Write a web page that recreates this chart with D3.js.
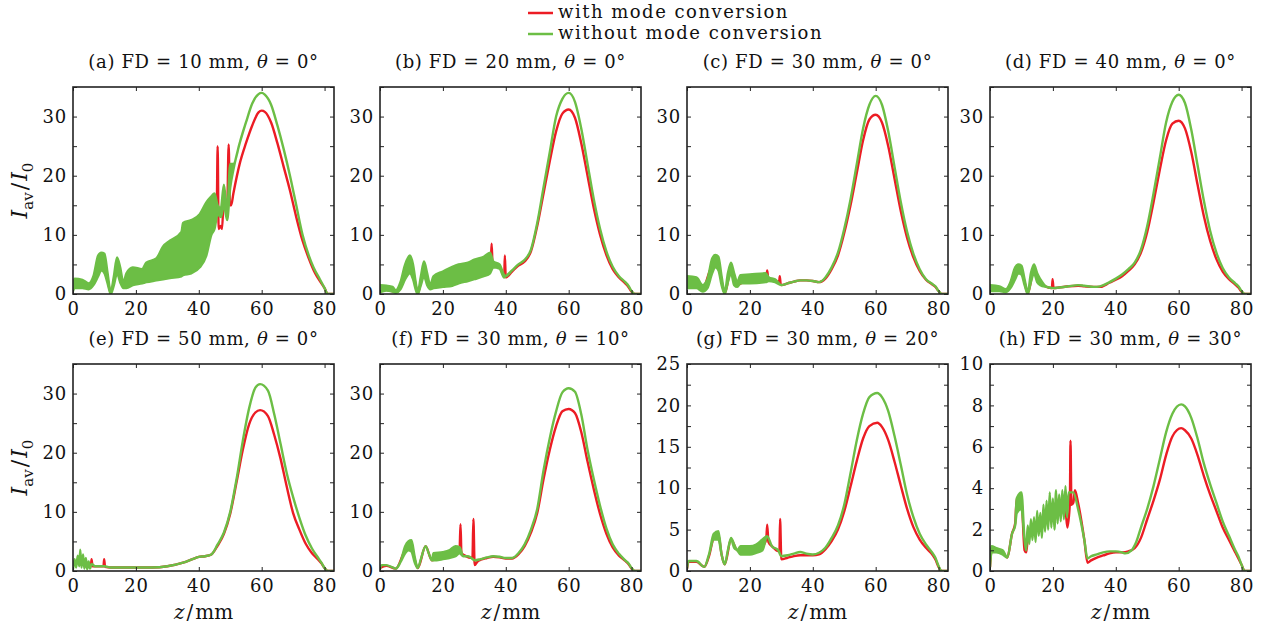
<!DOCTYPE html>
<html>
<head>
<meta charset="utf-8">
<script src="https://cdn.jsdelivr.net/npm/d3@7"></script>
<style>
  body { margin: 0; background: #fff; }
  svg text { font-family: "DejaVu Serif", serif; fill: #111; }
</style>
</head>
<body>
<svg id="chart" width="1264" height="630"></svg>
<script>
// [z, value] = single line point, [z, low, high] = fast oscillation band (low..high)
const aWith = [[0,1],[3,1.5],[5,1.2],[8,4.5],[10,5],[11,2.5],[12,0.2],[14,4.5],[16,1.5],[20,2.8],[25,3.8],[30,5],[35,7],[40,9],[43,11],[45,13],[45.7,14],[46,25],[46.3,11],[47,11.5],[47.4,11],[48,17],[49,13.5],[49.5,25.3],[49.9,15],[50.3,15],[51,17],[53,22],[55,25.5],[57,28.5],[59,30.7],[60,31],[61,30.8],[63,29],[65,25.5],[67,21.5],[69,17.5],[71,13],[73,9],[75,6],[77,3.5],[79,1.8],[80,1],[81,0],[83,0]];
const aWithout = [[0,0.5,1.5],[0.5,1,2.6],[3,1,2.4],[5,0.8,1.8],[6.5,1.5,3],[8,3,6.5],[9,4,7],[10,3.5,6.8],[11,1.8,3.5],[12,0,0.3],[13,1.5,3],[14,3.5,6.2],[15,2,4.5],[16,1,2],[17,1,3.5],[19,1.5,4.5],[22,1.8,4.2],[23.3,2,5.3],[26.5,2.3,6],[28.6,2.5,8],[30.8,2.7,9],[34.5,3,10.5],[35,3.2,12],[37.6,3.5,12.5],[40.3,4.5,13.5],[42.4,6.5,15.5],[44,10,16.5],[45,11,17],[46,13.5,15],[47,13,14.5],[48,15,18.5],[49,12.5,14],[50,18,22],[51,21,22],[53,25.5],[55,29],[57,32.2],[59,33.8],[60,34],[61,33.7],[63,32],[65,28.5],[67,24.5],[69,20],[71,15],[73,10],[75,6.5],[76.5,4.5],[78.5,2.5],[80,1],[81,0],[83,0]];

const bWith = [[0,1],[5,0.4],[8,3.5],[9.5,5],[11,2.5],[12,0.1],[14,4],[16,1.2],[20,2.5],[25,3.4],[30,4.2],[35,5.2],[35.3,6],[35.5,8.5],[35.8,5],[38,4.6],[39.5,3],[39.7,6.5],[40,2.8],[42,3.8],[44,4.8],[46,5.5],[48,7.2],[50,11.5],[52,17],[54,22.5],[56,27.5],[58,30.5],[60,31.2],[62,29.8],[64,25.5],[66,20],[68,14.5],[70,10],[72,6.6],[74,4.2],[76,2.8],[78,1.8],[79,1.2],[80,0.4],[81,0],[83,0]];
const bWithout = [[0,0.3,1.5],[2,0.6,1.4],[4,0.4,1.2],[5,0.2,0.6],[6.5,0.8,2],[8,2.5,5],[9.5,3.5,6.5],[10.5,2.5,5],[11.5,0.5,1.5],[12,0,0.3],[13,1.5,3],[14,3,5.5],[15,1.5,3.5],[16,0.8,1.5],[17,1,3],[20,1.2,3.8],[23,1.4,4.6],[25,1.8,5],[28,2.2,5.3],[30,2.5,5.8],[33,3,6.3],[35,3.5,7],[36,4.5,5.5],[38,4.3,5],[39.5,2.8,3.2],[40,3],[42,4],[44,5],[46,5.8],[48,7.5],[50,12],[52,18],[54,24],[56,30],[58,33],[60,34],[62,32.5],[64,28],[66,22],[68,16],[70,11],[72,7.2],[74,4.6],[76,3],[78,2],[79,1.4],[80,0.5],[81,0],[83,0]];

const cWith = [[0,2],[5,1],[8,4.7],[10,5],[11,2.2],[12,0.1],[14,4.2],[16,1.6],[20,2.5],[25,2.7],[25.3,3],[25.5,4],[25.8,2.8],[28,2.2],[29.3,2],[29.5,3],[29.8,1.6],[30,1.5],[32,1.8],[34,2.1],[36,2.3],[38,2.3],[40,2.2],[42,2],[44,2.6],[46,4.2],[48,6.5],[50,10.3],[52,15],[54,20.5],[56,26],[58,29.5],[60,30.3],[62,29],[64,25],[66,19.5],[68,14],[70,9.5],[72,6.2],[74,3.9],[76,2.4],[78,1.6],[79,1.2],[80,0.5],[81,0],[83,0]];
const cWithout = [[0,1,3],[3,1,2.8],[5,0.4,1.5],[6.5,1,2.5],[8,3.5,6],[9,4.5,6.6],[10,4,6.3],[11,1.5,3],[12,0,0.3],[13,2,3.5],[14,3.5,5.3],[15,1.5,3.5],[16,1.2,2],[17,1.8,3.2],[20,1.8,3.3],[25,2,3.5],[26,2.2,2.8],[28,2,2.5],[30,1.5],[32,1.8],[34,2.1],[36,2.3],[38,2.3],[40,2.2],[42,2],[44,2.8],[46,4.5],[48,7],[50,11],[52,16],[54,22],[56,28],[58,32],[60,33.5],[62,32],[64,27.5],[66,21.5],[68,15.5],[70,10.5],[72,6.8],[74,4.2],[76,2.5],[78,1.7],[79,1.3],[80,0.5],[81,0],[83,0]];

const dWith = [[0,1],[5,0.5],[8,3.5],[9.5,4.2],[11,2],[12,0.1],[14,4.2],[16,2],[18,1.2],[19.7,1],[19.9,2.5],[20.2,1],[22,1.1],[25,1.3],[28,1.4],[30,1.3],[33,1.2],[35,1.2],[38,1.9],[40,2.4],[42,3],[44,3.9],[46,5],[48,7],[50,10.5],[52,15.5],[54,21],[56,26],[58,28.8],[60,29.3],[62,28],[64,24],[66,18.5],[68,13.2],[70,9],[72,5.9],[74,3.8],[76,2.5],[78,1.6],[79,1.1],[80,0.4],[81,0],[83,0]];
const dWithout = [[0,0.5,1.5],[3,0.5,1.3],[5,0.3,0.8],[6.5,1,2],[8,2.5,4.5],[9,3.5,5],[10,3.3,4.8],[11,1.5,2.5],[12,0,0.3],[13,2,3.5],[14,3.5,5],[15,2,3.5],[16,1.5,2.5],[18,1.2],[20,1],[22,1.1],[25,1.3],[28,1.5],[30,1.4],[33,1.2],[35,1.3],[38,2],[40,2.6],[42,3.3],[44,4.2],[46,5.3],[48,7.5],[50,11.5],[52,17],[54,23],[56,29],[58,32.5],[60,33.7],[62,32.3],[64,27.8],[66,21.8],[68,15.8],[70,10.7],[72,7],[74,4.4],[76,2.8],[78,1.8],[79,1.3],[80,0.5],[81,0],[83,0]];

const eWith = [[0,1],[2,1.5],[4,0.8],[5.7,0.8],[5.9,2],[6.2,0.8],[9.7,0.8],[9.9,2],[10.2,0.7],[12,0.6],[15,0.6],[20,0.6],[25,0.6],[30,0.8],[35,1.4],[38,2],[40,2.4],[42,2.5],[44,2.8],[46,4.3],[48,6.3],[50,9.7],[52,15],[54,20.5],[56,24.8],[58,26.8],[59.5,27.2],[62,26.2],[64,23],[66,19],[68,14.2],[70,9.8],[72,7],[74,4.6],[76,3],[78,1.9],[79,1.3],[80,0.5],[81,0],[83,0]];
const eWithout = [[0,0.3],[0.5,2],[1,0.6],[1.5,2.6],[2,0.8],[2.3,3.6],[2.7,0.6],[3.2,2.8],[3.6,0.4],[4.1,2.2],[4.5,0.3],[5,1.6],[5.4,0.4],[6,1.2],[7,0.8],[10,0.8],[12,0.6],[15,0.6],[20,0.6],[25,0.6],[30,0.8],[35,1.4],[38,2],[40,2.4],[42,2.5],[44,2.8],[46,4.5],[48,6.5],[50,10],[52,15.5],[54,22],[56,27.5],[58,31],[59.5,31.6],[62,30.5],[64,26.5],[66,21.5],[68,16.5],[70,12.5],[72,9],[74,6],[76,3.8],[78,2.2],[79,1.4],[80,0.5],[81,0],[83,0]];

const fWith = [[0,0.5],[2,0.9],[5,0.4],[8,3.5],[10,4.2],[11,2],[12,0.5],[14.5,4.2],[16.5,1.8],[20,2.6],[24,3.2],[25.3,3.5],[25.6,7.9],[25.9,3],[27,2.6],[29.4,2.2],[29.7,8.8],[30.1,1],[31,1.6],[32,1.9],[34,2.2],[36,2.4],[38,2.3],[40,2.1],[42,2.1],[44,2.8],[46,4.2],[48,6.5],[50,9.8],[52,15.5],[54,20.5],[56,24.5],[58,27],[60,27.4],[62,26.7],[64,23.5],[66,18.5],[68,13.8],[70,9.6],[72,6.3],[74,4],[76,2.6],[78,1.7],[79,1.2],[80,0.4],[81,0],[83,0]];
const fWithout = [[0,0.3],[0.5,1],[2,1],[4,0.6],[5,0.4],[6.5,1.5],[8,3,4.2],[9,3.5,5],[10,3.3,5.2],[11,1.5,2.5],[12,0.5],[13,2],[14.5,4.2],[15.5,3],[16.5,1.8],[17,1.8,3],[20,2,3.2],[22,2.2,3.5],[24,2.5,4.2],[25.3,3,4],[26.5,2.5],[28,2.5],[29.5,2],[30,1.8],[32,2],[34,2.3],[36,2.5],[38,2.4],[40,2.2],[42,2.2],[44,3],[46,4.5],[48,7],[50,10.5],[52,17],[54,22.5],[56,27],[58,30.2],[60,30.9],[62,30.3],[64,26.5],[66,20.5],[68,15.5],[70,11],[72,7.2],[74,4.5],[76,2.9],[78,1.8],[79,1.3],[80,0.5],[81,0],[83,0]];

const gWith = [[0,0.3],[0.5,1.1],[3,1.1],[5.5,0.5],[7,1.8],[8.5,4],[10,4.3],[11,2],[12,0.8],[14,3.8],[16,2.5],[20,2.5],[24,3],[25.2,3.8],[25.5,5.6],[25.9,3.5],[27,3],[29,2.4],[29.4,2.4],[29.6,6.3],[30,1.4],[32,1.6],[34,1.8],[36,1.9],[38,1.9],[40,1.9],[42,2],[44,2.6],[46,3.6],[48,5],[50,7.2],[52,10.2],[54,13.3],[56,16],[58,17.5],[60.5,17.9],[62,17.4],[64,15.8],[66,13.2],[68,10.3],[70,7.5],[72,5.3],[74,3.8],[76,2.8],[78,2],[79,1.4],[80,0.5],[81,0],[83,0]];
const gWithout = [[0,0.3],[0.5,1.2],[3,1.2],[5.5,0.5],[7,2],[8.5,3.8,4.5],[10,3.8,4.8],[11,2],[12,0.8],[13,2.5],[14,3.8,4],[15,2.8,3.2],[16,2.5],[17,2,3],[20,2,3],[22,2.2,3.2],[24,2.5,3.8],[25.5,4.2],[27,3],[29,2.5],[30,1.8],[32,1.9],[34,2.1],[36,2.3],[38,2.1],[40,2],[42,2.2],[44,2.8],[46,4],[48,5.5],[50,8],[52,11.8],[54,15.8],[56,19],[58,21],[60.5,21.5],[62,21],[64,19.3],[66,16.3],[68,12.8],[70,9.2],[72,6.5],[74,4.5],[76,3.2],[78,2.2],[79,1.6],[80,0.6],[81,0],[83,0]];

const hWith = [[0,0.2],[0.5,1],[2,1],[4,0.9],[5.5,0.65],[7,1.8],[8,2.3],[8.5,3.5],[10,3.4],[11,1],[11.5,0.9],[12,1.5],[14,2],[16,2.3],[18,2.7],[20,2.8],[22,2.9],[24,2.9],[24.6,2.1],[25.4,3.3],[25.6,6.3],[25.9,3.2],[26.5,3.3],[27,3.9],[28,3.3],[30,1.5],[31,0.4],[32,0.5],[34,0.65],[36,0.75],[38,0.85],[40,0.9],[42,0.9],[44,0.95],[46,1.1],[48,1.6],[50,2.5],[52,3.4],[54,4.4],[56,5.6],[58,6.5],[60.8,6.9],[62,6.8],[64,6.4],[66,5.6],[68,4.6],[70,3.7],[72,2.9],[74,2.1],[76,1.5],[78,0.9],[79,0.6],[80,0.3],[81,0],[83,0]];
const hWithout = [[0,0.2],[0.5,0.9,1.2],[2,0.9,1.1],[4,0.8,1],[5.5,0.65],[7,1.8],[8,2.2],[8.5,2.8,3.5],[10,3,3.8],[11,1.5],[11.5,1],[12,2.2],[12.5,1.3],[13,2.5],[13.5,1.5],[14,2.6],[14.5,1.4],[15,2.9],[15.5,1.7],[16,2.8],[16.5,1.6],[17,3.2],[17.5,1.9],[18,3.4],[18.5,2],[19,3.8],[19.5,2.1],[20,3.5],[20.5,2],[21,3.9],[21.5,2.3],[22,3.7],[22.5,2.4],[23,3.9],[23.5,2.5],[24,4.1],[24.5,2.6],[25,3.8],[26.5,3.8],[28,3],[30,1.5],[31,0.6],[32,0.7],[34,0.8],[36,0.9],[38,0.95],[40,0.95],[42,0.9],[43,0.85],[45,1],[46.5,1.4],[48,2.1],[50,3],[52,4.1],[54,5.4],[56,6.7],[58,7.6],[60.8,8.05],[62,7.95],[64,7.4],[66,6.4],[68,5.2],[70,4.2],[72,3.3],[74,2.4],[76,1.7],[78,1],[79,0.7],[80,0.3],[81,0],[83,0]];

const seriesNames = ["with mode conversion", "without mode conversion"];
const panelLetters = ["(a)", "(b)", "(c)", "(d)", "(e)", "(f)", "(g)", "(h)"];
const focalDistances = [10, 20, 30, 40, 50, 30, 30, 30];
const angles = [0, 0, 0, 0, 0, 10, 20, 30];
const yMaxes = [35, 35, 35, 35, 35, 35, 25, 10];
const yMinorSteps = [5, 5, 5, 5, 5, 5, 2.5, 1];
const yLabelSteps = [10, 10, 10, 10, 10, 10, 5, 2];
const xTicks = [0, 20, 40, 60, 80];
const zMax = 83;

const withSeries = [aWith, bWith, cWith, dWith, eWith, fWith, gWith, hWith];
const withoutSeries = [aWithout, bWithout, cWithout, dWithout, eWithout, fWithout, gWithout, hWithout];

const colors = ["#ec1c24", "#6cbe45"];
const colLeft = [73, 380, 687, 990];
const rowTop = [87, 364];
const pw = 261, ph = 207;

const svg = d3.select("#chart");

// legend
seriesNames.forEach((name, k) => {
    const ly = 13 + k * 21;
    svg.append("line")
        .attr("x1", 528).attr("x2", 553)
        .attr("y1", ly).attr("y2", ly)
        .attr("stroke", colors[k])
        .attr("stroke-width", 2.5);
    svg.append("text")
        .attr("x", 558).attr("y", ly + 5)
        .style("font-size", "18px")
        .style("letter-spacing", "1.5px")
        .text(name);
});

function ticksFor(max, step) {
    return d3.range(0, max + step / 2, step);
}

withSeries.forEach((_, i) => {
    const left = colLeft[i % 4];
    const top = rowTop[Math.floor(i / 4)];
    const g = svg.append("g").attr("transform", `translate(${left},${top})`);

    const x = d3.scaleLinear().domain([0, zMax]).range([0, pw]);
    const y = d3.scaleLinear().domain([0, yMaxes[i]]).range([ph, 0]);

    g.append("clipPath").attr("id", "clip" + i)
        .append("rect").attr("width", pw).attr("height", ph);

    const area = d3.area()
        .x(d => x(d[0]))
        .y0(d => y(d[1]))
        .y1(d => y(d.length > 2 ? d[2] : d[1]))
        .curve(d3.curveMonotoneX);

    // red first, green drawn on top
    [withSeries[i], withoutSeries[i]].forEach((data, k) => {
        g.append("path")
            .attr("clip-path", `url(#clip${i})`)
            .attr("d", area(data))
            .attr("fill", colors[k])
            .attr("stroke", colors[k])
            .attr("stroke-width", 2.4)
            .attr("stroke-linejoin", "round");
    });

    // ticks on all four sides, pointing inwards
    const yt = ticksFor(yMaxes[i], yMinorSteps[i]);
    const isLabel = v => Math.abs(v / yLabelSteps[i] - Math.round(v / yLabelSteps[i])) < 1e-6;

    g.append("g")
        .call(d3.axisLeft(y).tickValues(yt).tickSizeInner(-4).tickSizeOuter(0).tickPadding(6)
            .tickFormat(d => isLabel(d) ? d : ""));
    g.append("g").attr("transform", `translate(${pw},0)`)
        .call(d3.axisRight(y).tickValues(yt).tickSizeInner(-4).tickSizeOuter(0).tickFormat(""));
    g.append("g").attr("transform", `translate(0,${ph})`)
        .call(d3.axisBottom(x).tickValues(xTicks).tickSizeInner(-4).tickSizeOuter(0).tickPadding(8));
    g.append("g")
        .call(d3.axisTop(x).tickValues(xTicks).tickSizeInner(-4).tickSizeOuter(0).tickFormat(""));

    g.selectAll(".domain").remove();
    g.selectAll(".tick line").attr("stroke", "#222");
    g.selectAll(".tick text")
        .attr("fill", "#111")
        .style("font-family", "'DejaVu Serif', serif")
        .style("font-size", "18px")
        .style("letter-spacing", "0.8px");

    g.append("rect")
        .attr("width", pw).attr("height", ph)
        .attr("fill", "none")
        .attr("stroke", "#222")
        .attr("stroke-width", 1.6);

    // title
    const title = g.append("text")
        .attr("x", pw / 2).attr("y", -19)
        .attr("text-anchor", "middle")
        .style("font-size", "18px")
        .style("letter-spacing", "0.65px");
    title.append("tspan").text(`${panelLetters[i]} FD = ${focalDistances[i]} mm, `);
    title.append("tspan").style("font-style", "italic").text("θ");
    title.append("tspan").text(` = ${angles[i]}°`);

    // y label
    if (i % 4 === 0) {
        const yl = g.append("text")
            .attr("transform", `translate(-46,${ph / 2}) rotate(-90)`)
            .attr("text-anchor", "middle")
            .style("font-size", "22px");
        yl.append("tspan").style("font-style", "italic").text("I");
        yl.append("tspan").attr("dy", 6).style("font-size", "15px").text("av");
        yl.append("tspan").attr("dy", -6).attr("dx", 2).text("/");
        yl.append("tspan").attr("dx", 2).style("font-style", "italic").text("I");
        yl.append("tspan").attr("dy", 6).style("font-size", "15px").text("0");
    }

    // x label
    if (i >= 4) {
        const xl = g.append("text")
            .attr("x", pw / 2).attr("y", ph + 48)
            .attr("text-anchor", "middle")
            .style("font-size", "20px");
        xl.append("tspan").style("font-style", "italic").text("z");
        xl.append("tspan").attr("dx", 2).text("/");
        xl.append("tspan").attr("dx", 2).text("mm");
    }
});
</script>
</body>
</html>
